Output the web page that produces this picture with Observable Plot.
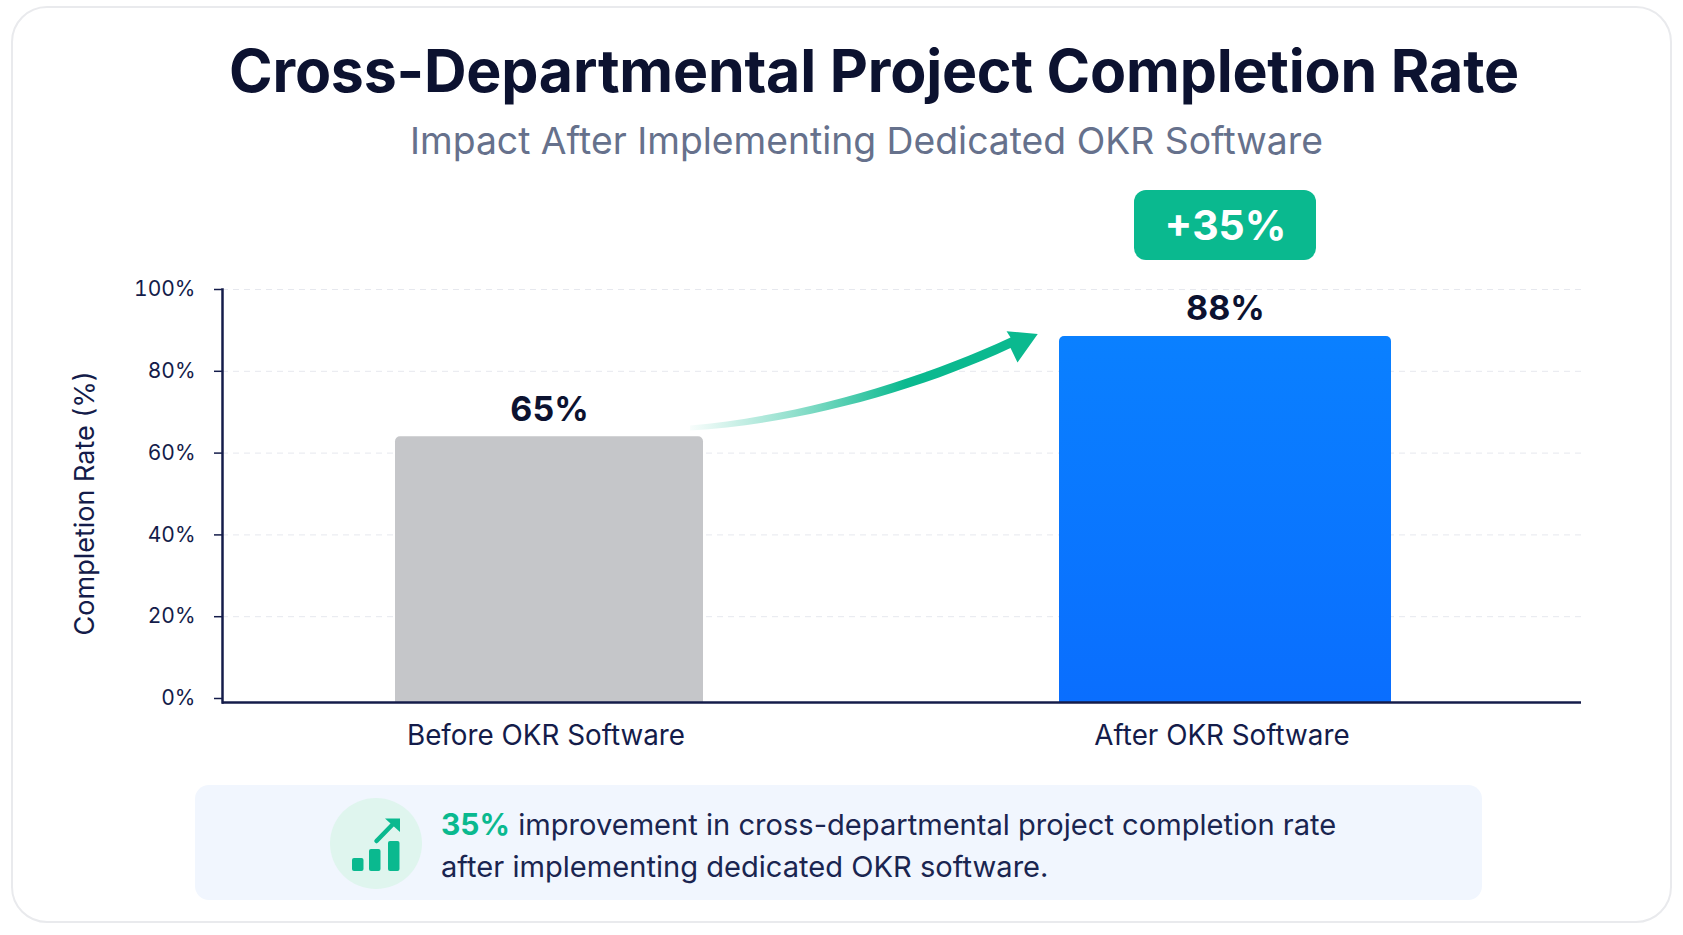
<!DOCTYPE html>
<html><head><meta charset="utf-8">
<script src="https://cdn.jsdelivr.net/npm/d3@7"></script>
<script src="https://cdn.jsdelivr.net/npm/@observablehq/plot@0.6"></script>
<style>
html,body{margin:0;padding:0;background:#fff;width:1683px;height:935px;overflow:hidden;font-family:Inter,sans-serif}
#card{position:absolute;left:11px;top:6px;width:1657px;height:913px;border:2px solid #e9eaed;border-radius:36px;background:#fff}
#chart{position:absolute;left:0;top:0}
h1{position:absolute;left:0;width:1748px;top:30px;margin:0;text-align:center;font-size:59px;line-height:82px;font-weight:700;color:#0c1230;letter-spacing:-.2px;white-space:nowrap}
h2{position:absolute;left:0;width:1733px;top:116px;margin:0;text-align:center;font-size:37.3px;line-height:50px;font-weight:400;color:#66718c;white-space:nowrap}
#note{position:absolute;left:195px;top:785px;width:1287px;height:115px;border-radius:14px;background:#f1f6fe}
#icon{position:absolute;left:329px;top:797px}
#txt{position:absolute;left:441px;top:803px;font-size:29.1px;line-height:42px;color:#1a2550;white-space:nowrap}
#txt b{color:#0ab98f;font-weight:700;font-size:30px}
</style></head><body>
<div id="card"></div>
<h1>Cross-Departmental Project Completion Rate</h1>
<h2>Impact After Implementing Dedicated OKR Software</h2>
<div id="chart"></div>
<div id="note"></div>
<svg id="icon" width="94" height="94" viewBox="0 0 94 94">
<ellipse cx="47" cy="46.5" rx="46" ry="45.5" fill="#dff5ee"/>
<rect x="23" y="61" width="11.5" height="13" rx="2" fill="#0ab98f"/>
<rect x="40" y="52" width="11.5" height="22" rx="2" fill="#0ab98f"/>
<rect x="59" y="44" width="11.5" height="30" rx="2" fill="#0ab98f"/>
<path d="M47.5 44 L66 25" stroke="#0ab98f" stroke-width="4.5" stroke-linecap="round" fill="none"/>
<path d="M56 21.5 L71 21.5 L71 35 Z" fill="#0ab98f"/>
</svg>
<div id="txt"><b>35%</b> improvement in cross-departmental project completion rate<br>after implementing dedicated OKR software.</div>
<script>
const categories = ["Before OKR Software", "After OKR Software"];
const barReadings = [64, 88.5];
const valueLabels = ["65%", "88%"];
const yTicks = [0, 20, 40, 60, 80, 100];
const gridTicks = [20, 40, 60, 80, 100];
const yTitle = "Completion Rate (%)";
const badgeLabel = "+35%";
const badgeSpan = [107.1, 124.2];
const ink = "#141c4a", green = "#0ab98f";
const table = categories.map((c, i) => ({c, v: barReadings[i], t: valueLabels[i]}));

function growthArrow(index, scales) {
  const bw = scales.scales.x.bandwidth;
  const [B, A] = categories;
  const P = (c, f, v, o = 0) => (scales.x(c) + bw * f) + " " + (scales.y(v) + o);
  const d = "M" + P(B, .925, 66, -2.5) +
    "C" + P(B, 1.256, 68, -4) + " " + P(A, -.42, 76.5, -5.4) + " " + P(A, -.146, 86.8, -5.6) +
    "L" + P(A, -.158, 89.7) + "L" + P(A, -.064, 89) + "L" + P(A, -.125, 82) + "L" + P(A, -.146, 86.8, 5) +
    "C" + P(A, -.42, 76.5, 5.4) + " " + P(B, 1.256, 68, 4) + " " + P(B, .925, 66, 2.5) + "Z";
  const s = d3.create("svg:g");
  const g = s.append("defs").append("linearGradient").attr("id", "arrowGrad");
  g.append("stop").attr("offset", "0").attr("stop-color", green).attr("stop-opacity", .03);
  g.append("stop").attr("offset", ".3").attr("stop-color", green).attr("stop-opacity", .45);
  g.append("stop").attr("offset", ".62").attr("stop-color", green).attr("stop-opacity", 1);
  s.append("path").attr("d", d).attr("fill", "url(#arrowGrad)");
  return s.node();
}
function blueDefs() {
  const s = d3.create("svg:defs");
  const g = s.append("linearGradient").attr("id", "blueGrad").attr("x1", 0).attr("x2", 0).attr("y1", 0).attr("y2", 1);
  g.append("stop").attr("offset", "0").attr("stop-color", "#0a80ff");
  g.append("stop").attr("offset", "1").attr("stop-color", "#0a6efe");
  return s.node();
}

const chart = Plot.plot({
  width: 1683, height: 935,
  marginLeft: 222, marginRight: 102, marginTop: 289, marginBottom: 237,
  style: {fontFamily: "Inter, sans-serif", background: "transparent", color: ink, overflow: "visible"},
  x: {type: "band", domain: categories, paddingInner: .5089, paddingOuter: .2594, align: .458, label: null},
  y: {domain: [0, 100], label: null},
  marks: [
    blueDefs,
    Plot.gridY(gridTicks, {stroke: "#e6e8ee", strokeOpacity: 1, strokeDasharray: "6,5"}),
    Plot.barY([table[0]], {x: "c", y: "v", fill: "#c5c6c9", ry1: 5, insetLeft: 12, insetRight: 12, insetBottom: -4}),
    Plot.barY([table[1]], {x: "c", y: "v", fill: "url(#blueGrad)", ry1: 5, insetBottom: -4}),
    Plot.ruleY([0], {dy: 4, stroke: ink, strokeWidth: 2.5}),
    Plot.frame({anchor: "left", stroke: ink, strokeWidth: 2.5, insetBottom: -4}),
    Plot.axisY({ticks: yTicks, tickFormat: d => d + "%", tickSize: 8, tickPadding: 19, fontSize: 21, stroke: ink, strokeWidth: 1.5,
      label: null, color: ink}),
    Plot.text([yTitle], {frameAnchor: "left", y: () => 47.7, text: d => d, rotate: -90, textAnchor: "middle", dx: -137, fontSize: 27, fill: ink}),
    Plot.axisX({tickSize: 0, tickPadding: 27, fontSize: 27.8, dx: -3.5, label: null}),
    Plot.text(table, {x: "c", y: "v", text: "t", dy: -27, fontSize: 34, fontWeight: 700, fill: "#0c1230"}),
    growthArrow,
    Plot.barY([categories[1]], {x: d => d, y1: () => badgeSpan[0], y2: () => badgeSpan[1], fill: green, r: 12, insetLeft: 75, insetRight: 75}),
    Plot.text([categories[1]], {x: d => d, y: () => (badgeSpan[0] + badgeSpan[1]) / 2, text: () => badgeLabel, dy: 1, fontSize: 41, fontWeight: 700, fill: "#fff"})
  ]
});
document.getElementById("chart").append(chart);
</script>
</body></html>
